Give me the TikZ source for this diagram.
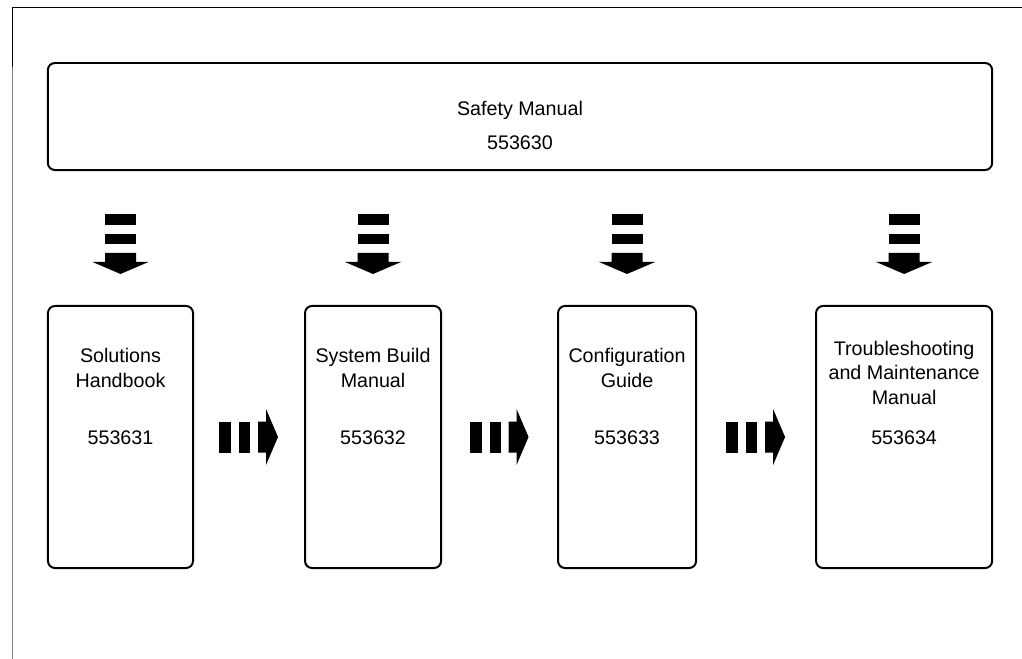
\documentclass[tikz,border=0pt]{standalone}
\usepackage{fontspec}
\setmainfont{Liberation Sans}
\usetikzlibrary{positioning,calc}

\tikzset{
    downflow/.pic={
        \fill (-15.5,-24) rectangle (15.5,-13);
        \fill (-15.5,-4) rectangle (15.5,6);
        \fill (-15.5,15) -- (15.5,15) -- (15.5,24) -- (28,24) -- (0,36) -- (-28,24) -- (-15.5,24) -- cycle;
    },
    rightflow/.pic={
        \fill (-30,-15.5) rectangle (-18,15.5);
        \fill (-10,-15.5) rectangle (1,15.5);
        \fill (9,-15.5) -- (17,-15.5) -- (17,-28) -- (29,0) -- (17,28) -- (17,15.5) -- (9,15.5) -- cycle;
    }
}

\begin{document}
\begin{tikzpicture}[
    x=0.025cm, y=-0.025cm,
    font=\fontsize{14}{17.2}\selectfont,
    node distance=2.75cm,
    block/.style={draw, line width=1.4pt, rounded corners=5pt, minimum height=6.55cm},
    txt/.style={align=center, inner sep=0pt, anchor=base}
]
    \useasboundingbox (0,0) rectangle (1022,659);

    % page frame
    \draw[line width=0.6pt] (1022,7) -- (12,7) -- (12,67);
    \draw[line width=0.6pt, gray] (12,67) -- (12,659);

    \node[block, minimum width=23.6cm, minimum height=2.675cm] (safety) at (520,116.5) {};
    \node[txt] (safetyname) at ($(safety.center)+(0,-1.5)$) {Safety Manual};
    \node[txt] (safetyno) at ($(safety.center)+(0,32.5)$) {553630};

    \node[block, minimum width=3.625cm] (handbook) at (120.5,437) {};
    \node[block, minimum width=3.4cm, right=of handbook] (build) {};
    \node[block, minimum width=3.45cm, right=2.875cm of build] (config) {};
    \node[block, minimum width=4.4cm, right=2.95cm of config] (trouble) {};

    \node[txt] (handbookname) at ($(handbook.center)+(0,-50)$) {Solutions\\Handbook};
    \node[txt] (handbookno) at ($(handbook.center)+(0,7)$) {553631};
    \node[txt] (buildname) at ($(build.center)+(0,-50)$) {System Build\\Manual};
    \node[txt] (buildno) at ($(build.center)+(0,7)$) {553632};
    \node[txt] (configname) at ($(config.center)+(0,-50)$) {Configuration\\Guide};
    \node[txt] (configno) at ($(config.center)+(0,7)$) {553633};
    \node[txt] (troublename) at ($(trouble.center)+(0,-33)$) {Troubleshooting\\and Maintenance\\Manual};
    \node[txt] (troubleno) at ($(trouble.center)+(0,7)$) {553634};

    % flow arrows
    \foreach \b in {handbook,build,config,trouble}
        \pic at ($(safety.south -| \b)!0.5!(\b.north)$) {downflow};
    \pic at ($(handbook.east)!0.5!(build.west)$) {rightflow};
    \pic at ($(build.east)!0.5!(config.west)$) {rightflow};
    \pic at ($(config.east)!0.5!(trouble.west)$) {rightflow};
\end{tikzpicture}
\end{document}
